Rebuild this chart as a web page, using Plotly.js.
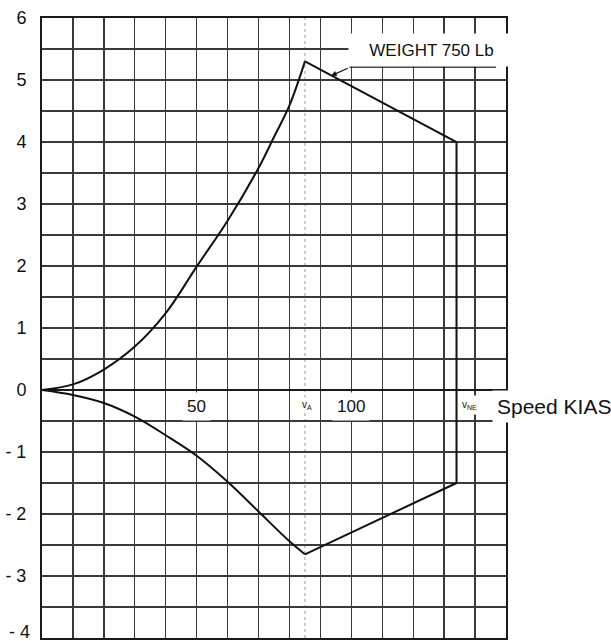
<!DOCTYPE html>
<html>
<head>
<meta charset="utf-8">
<script src="https://cdn.plot.ly/plotly-3.0.1.min.js"></script>
<style>
  html, body { margin: 0; padding: 0; background: #fff; }
  #chart { width: 611px; height: 641px; }
</style>
</head>
<body>
<div id="chart"></div>
<script>
// ---- data (speed in KIAS, load factor n) ----
const speedPos = [0, 10, 20, 30, 40, 50, 60, 70, 75, 80, 85];
const loadPos  = [0, 0.09, 0.33, 0.70, 1.24, 1.99, 2.73, 3.58, 4.08, 4.59, 5.30];
const speedNeg = [0, 10, 20, 30, 40, 50, 60, 70, 80, 85];
const loadNeg  = [0, -0.08, -0.21, -0.43, -0.73, -1.06, -1.48, -1.96, -2.44, -2.65];
const speedVA  = 85;
const speedVNE = 134;
const vneLoads = [4.0, -1.5];
const yTickVals   = [-4, -3, -2, -1, 0, 1, 2, 3, 4, 5, 6];
const yTickLabels = ['- 4', '- 3', '- 2', '- 1', '0', '1', '2', '3', '4', '5', '6'];
const xLabelVals  = [50, 100];
const xLabelTexts = ['50', '100'];
const weightLabel = 'WEIGHT 750 Lb';
const axisLabel   = 'Speed KIAS';

const FONT = 'Arial, "Liberation Sans", Helvetica, sans-serif';
const INK = '#111';
const GRID = '#3a3a3a';

const lineStyle = {color: INK, width: 2};

const traces = [
  {x: speedPos, y: loadPos, mode: 'lines', line: Object.assign({shape: 'spline', smoothing: 1.0}, lineStyle), hoverinfo: 'skip'},
  {x: speedNeg, y: loadNeg, mode: 'lines', line: Object.assign({shape: 'spline', smoothing: 1.0}, lineStyle), hoverinfo: 'skip'},
  {
    x: [speedPos[speedPos.length - 1], speedVNE, speedVNE, speedNeg[speedNeg.length - 1]],
    y: [loadPos[loadPos.length - 1], vneLoads[0], vneLoads[1], loadNeg[loadNeg.length - 1]],
    mode: 'lines', line: lineStyle, hoverinfo: 'skip'
  }
];

const annotations = [];
xLabelVals.forEach((v, i) => {
  annotations.push({
    x: v, y: -0.27, xref: 'x', yref: 'y', text: xLabelTexts[i], showarrow: false,
    font: {family: FONT, size: 17, color: INK}, bgcolor: '#fff', borderpad: 4,
    xanchor: 'center', yanchor: 'middle'
  });
});
annotations.push({
  x: speedVA + 0.8, y: -0.24, xref: 'x', yref: 'y', text: 'v<sub>A</sub>', showarrow: false,
  font: {family: FONT, size: 10, color: INK}, bgcolor: '#fff', borderpad: 1,
  xanchor: 'center', yanchor: 'middle'
});
annotations.push({
  x: speedVNE + 4.2, y: -0.24, xref: 'x', yref: 'y', text: 'v<sub>NE</sub>', showarrow: false,
  font: {family: FONT, size: 10, color: INK}, bgcolor: '#fff', borderpad: 3,
  xanchor: 'center', yanchor: 'middle'
});
annotations.push({
  x: 145.6, y: -0.27, xref: 'x', yref: 'y', text: axisLabel, showarrow: false,
  font: {family: FONT, size: 21, color: INK}, bgcolor: '#fff', borderpad: 4,
  xanchor: 'left', yanchor: 'middle'
});
annotations.push({
  x: 125.9, y: 5.48, xref: 'x', yref: 'y', text: weightLabel, showarrow: false,
  font: {family: FONT, size: 17, color: INK}, bgcolor: '#fff', borderpad: 0,
  width: 165, height: 32, align: 'center', valign: 'middle',
  xanchor: 'center', yanchor: 'middle'
});
// leader arrow pointing to the envelope line
annotations.push({
  x: 93.5, y: 5.07, xref: 'x', yref: 'y', text: '', showarrow: true,
  ax: 18, ay: -8, arrowhead: 2, arrowsize: 0.9, arrowwidth: 1.2, arrowcolor: INK
});
// bottom tick label sits on the page edge, where the axis drops it
annotations.push({
  x: 0, y: yTickVals[0], xref: 'paper', yref: 'y', text: yTickLabels[0], showarrow: false,
  font: {family: FONT, size: 18, color: INK}, xanchor: 'right', yanchor: 'middle',
  xshift: -10, yshift: 6
});

const shapes = [
  // faint V_A reference line
  {type: 'line', xref: 'x', yref: 'paper', x0: speedVA, x1: speedVA, y0: 0, y1: 1,
   line: {color: '#9a9a9a', width: 1, dash: 'dot'}, layer: 'below'},
  // underline of the weight label
  {type: 'line', xref: 'x', yref: 'y', x0: 99.4, x1: 146.8, y0: 5.21, y1: 5.21,
   line: {color: INK, width: 1.3}}
];

const layout = {
  width: 611, height: 641,
  margin: {l: 42, r: 105, t: 18, b: 3, pad: 0},
  paper_bgcolor: '#fff', plot_bgcolor: '#fff',
  showlegend: false,
  xaxis: {
    range: [0, 150], tickmode: 'linear', tick0: 0, dtick: 10,
    showticklabels: false, ticks: '',
    showgrid: true, gridcolor: GRID, gridwidth: 1.3,
    zeroline: false,
    showline: true, mirror: true, linecolor: '#1a1a1a', linewidth: 2,
    fixedrange: true
  },
  yaxis: {
    range: [-4, 6], tickmode: 'array', tickvals: yTickVals, ticktext: yTickLabels,
    ticks: '', ticklabelstandoff: 10,
    tickfont: {family: FONT, size: 18, color: INK},
    showgrid: true, gridcolor: GRID, gridwidth: 1.3,
    minor: {tickmode: 'linear', tick0: 0, dtick: 0.5, showgrid: true, gridcolor: GRID, gridwidth: 1.3, ticks: ''},
    zeroline: true, zerolinecolor: '#1a1a1a', zerolinewidth: 1.6,
    showline: true, mirror: true, linecolor: '#1a1a1a', linewidth: 2,
    fixedrange: true
  },
  annotations: annotations,
  shapes: shapes
};

Plotly.newPlot('chart', traces, layout, {staticPlot: true, displayModeBar: false});
</script>
</body>
</html>
